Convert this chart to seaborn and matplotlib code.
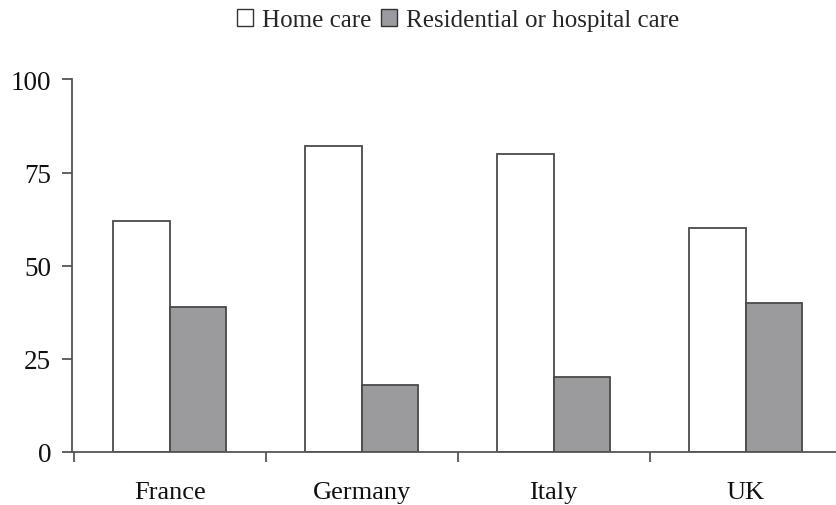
import matplotlib
matplotlib.use("Agg")
import matplotlib.pyplot as plt
import seaborn as sns
import pandas as pd
from matplotlib.patches import Patch

countries = ["France", "Germany", "Italy", "UK"]
home_care = [62, 82, 80, 60]
residential_care = [39, 18, 20, 40]
series_names = ["Home care", "Residential or hospital care"]
y_ticks = [0, 25, 50, 75, 100]

df = pd.DataFrame({
    "country": countries * 2,
    "value": home_care + residential_care,
    "series": [series_names[0]] * len(countries) + [series_names[1]] * len(countries),
})

sns.set_style("white")
plt.rcParams["font.family"] = ["Liberation Serif", "DejaVu Serif"]

fig = plt.figure(figsize=(8.36, 5.06), dpi=100)
ax = fig.add_axes([0.086, 0.105, 0.914, 0.736])

palette = {series_names[0]: "#ffffff", series_names[1]: "#9a9b9f"}
sns.barplot(data=df, x="country", y="value", hue="series", order=countries,
            hue_order=series_names, palette=palette, width=0.59, gap=0,
            edgecolor="#4a4a4a", linewidth=1.3, legend=False, ax=ax)

ax.set_ylim(0, 100)
ax.set_xlim(-0.51, 3.47)
ax.set_yticks(y_ticks)
ax.set_yticklabels([str(t) for t in y_ticks], fontsize=19.5, color="#111111")
ax.set_xticks([0, 1, 2, 3])
ax.set_xticklabels(countries, fontsize=19, color="#111111")
ax.tick_params(axis="x", length=0, pad=21)
ax.tick_params(axis="y", direction="out", length=7, width=1.3, color="#555555", left=True, pad=8)
ax.set_xticks([-0.5, 0.5, 1.5, 2.5], minor=True)
ax.tick_params(axis="x", which="minor", direction="out", length=7, width=1.3, color="#555555", bottom=True)
ax.set_xlabel("")
ax.set_ylabel("")

for s in ["top", "right"]:
    ax.spines[s].set_visible(False)
for s in ["left", "bottom"]:
    ax.spines[s].set_color("#555555")
    ax.spines[s].set_linewidth(1.3)

handles = [Patch(facecolor=palette[n], edgecolor="#333333", linewidth=1.0) for n in series_names]
fig.legend(handles, series_names, loc="center", bbox_to_anchor=(0.548, 0.958), ncol=2,
           frameon=False, fontsize=18, handlelength=0.65, handleheight=0.65,
           handletextpad=0.35, columnspacing=0.4)

fig.savefig("out.png", dpi=100)
